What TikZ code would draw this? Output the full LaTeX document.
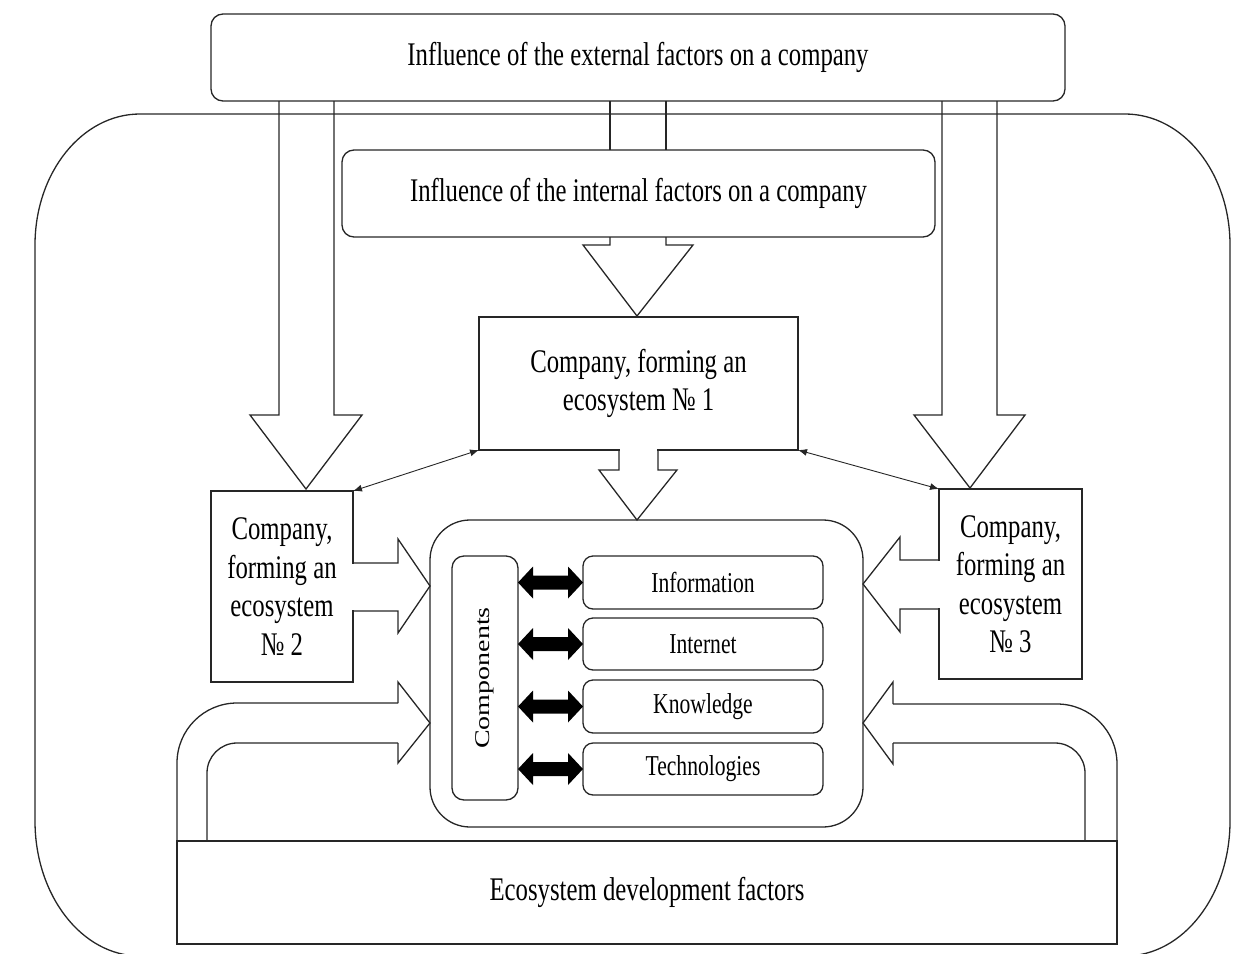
\documentclass[tikz,border=0pt]{standalone}
\usepackage{fontspec}
\setmainfont{Liberation Serif}[FakeStretch=0.75]
\newfontfamily\uprightserif{Liberation Serif}
\usetikzlibrary{calc,arrows.meta}
\begin{document}
\begin{tikzpicture}[x=1pt,y=-1pt,
  line/.style={line width=1.3pt, draw=black!85},
  box/.style={line, draw, inner sep=0pt, outer sep=0pt, align=center,
    font=\fontsize{33}{38.5}\selectfont},
  rbox/.style={box, rounded corners=12pt},
  itembox/.style={box, rounded corners=10pt, minimum width=240pt,
    font=\fontsize{28.8}{32}\selectfont},
  blockarrow/.style={line, line join=miter},
  gapfill/.style={fill=white},
  thinlink/.style={line width=0.9pt, draw=black!85,
    {Latex[length=9pt,width=7pt]}-{Latex[length=9pt,width=7pt]}},
]
\useasboundingbox (0,0) rectangle (1255,953);

% outer frame of the ecosystem
\draw[line] (140,114) -- (1125,114)
  arc[start angle=-90, end angle=0, x radius=105, y radius=131] -- (1230,821)
  arc[start angle=0, end angle=90, x radius=105, y radius=135] -- (140,956)
  arc[start angle=90, end angle=180, x radius=105, y radius=135] -- (35,245)
  arc[start angle=180, end angle=270, x radius=105, y radius=131] -- cycle;

% factor boxes
\node[rbox, minimum width=854pt, minimum height=87pt] (ext) at (638,57.5)
  {Influence of the external factors on a company};
\node[rbox, minimum width=593pt, minimum height=87pt] (int) at (638.5,193.5)
  {Influence of the internal factors on a company};

% shaft between the two factor boxes
\draw[line] (ext.south -| 610,0) -- (int.north -| 610,0);
\draw[line] (ext.south -| 666,0) -- (int.north -| 666,0);

% wide arrows from the external factors to companies 2 and 3
\draw[blockarrow] (279,101) -- (279,415) -- (250,415) -- (306,489)
  -- (362,415) -- (334,415) -- (334,101);
\draw[blockarrow] (942,101) -- (942,415) -- (914,415) -- (970,488)
  -- (1025,415) -- (997,415) -- (997,101);

% wide arrow from the internal factors to company 1
\draw[blockarrow] (610,237) -- (610,245) -- (583,245) -- (637,316)
  -- (693,245) -- (666,245) -- (666,237);

% companies
\node[box, minimum width=319pt, minimum height=133pt] (c1) at (638.5,383.5)
  {Company, forming an\\ecosystem № 1};
\node[box, minimum width=142pt, minimum height=191pt] (c2) at (282,586.5)
  {Company,\\forming an\\ecosystem\\№ 2};
\node[box, minimum width=143pt, minimum height=190pt] (c3) at (1010.5,584)
  {Company,\\forming an\\ecosystem\\№ 3};

% links between companies
\draw[thinlink] (c1.south west) -- (c2.north east);
\draw[thinlink] (c1.south east) -- (c3.north west);

% centre block with the components
\node[box, rounded corners=40pt, minimum width=433pt, minimum height=307pt]
  (core) at (646.5,673.5) {};
\node[box, rounded corners=12pt, minimum width=66pt, minimum height=244pt]
  (comps) at (485,678)
  {\rotatebox{90}{\scalebox{1}[0.75]{\uprightserif\fontsize{28}{32}\selectfont Components}}};
\node[itembox, minimum height=53pt] (info) at (703,582.5) {Information};
\node[itembox, minimum height=52pt] (inet) at (703,644) {Internet};
\node[itembox, minimum height=53pt] (know) at (703,706.5) {Knowledge};
\node[itembox, minimum height=52pt] (tech) at (703,769) {Technologies};

% black double arrows between components and each item
\foreach \it in {info,inet,know,tech}{
  \fill[black] (comps.east |- \it.west) -- ++(15,-16) -- ++(0,9)
    -- ($(\it.west)+(-15,-7)$) -- ++(0,-9) -- (\it.west) -- ++(-15,16)
    -- ++(0,-9) -- ($(comps.east |- \it.west)+(15,7)$) -- ++(0,9) -- cycle;
}

% wide arrow from company 1 into the centre block
\fill[gapfill] (619.7,445) -- (619.7,470) -- (657.3,470) -- (657.3,445) -- cycle;
\draw[blockarrow] (619,450) -- (619,470) -- (599,470) -- (637,520)
  -- (677,470) -- (658,470) -- (658,450);

% wide arrows from companies 2 and 3 into the centre block
\fill[gapfill] (350,563.7) rectangle (356,610.3);
\draw[blockarrow] (353,563) -- (398,563) -- (398,539) -- (430,586)
  -- (398,633) -- (398,611) -- (353,611);
\fill[gapfill] (936,560.7) rectangle (942,608.3);
\draw[blockarrow] (939,560) -- (900,560) -- (900,537) -- (863,584)
  -- (900,632) -- (900,609) -- (939,609);

% development factors
\node[box, minimum width=940pt, minimum height=103pt] (eco) at (647,892.5)
  {Ecosystem development factors};

% bent arrows from the development factors into the centre block
\draw[line, rounded corners=60pt] (177,841) -- (177,703) -- (398,703);
\draw[blockarrow] (398,703) -- (398,682) -- (430,723) -- (398,763) -- (398,743);
\draw[line, rounded corners=30pt] (398,743) -- (207,743) -- (207,841);

\draw[line, rounded corners=60pt] (1117,841) -- (1117,704) -- (893,704);
\draw[blockarrow] (893,704) -- (893,682) -- (863,723) -- (893,764) -- (893,743);
\draw[line, rounded corners=30pt] (893,743) -- (1085,743) -- (1085,841);
\end{tikzpicture}
\end{document}
